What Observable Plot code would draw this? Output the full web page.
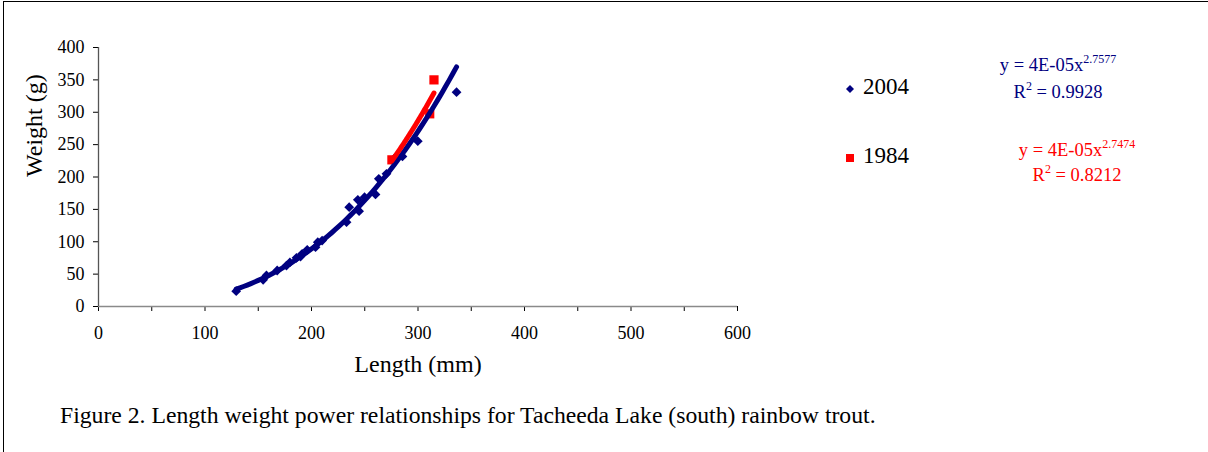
<!DOCTYPE html>
<html><head><meta charset="utf-8">
<script src="https://cdn.jsdelivr.net/npm/d3@7"></script>
<script src="https://cdn.jsdelivr.net/npm/@observablehq/plot@0.6"></script>
<style>
body{margin:0;background:#fff;}
#wrap{position:relative;width:1208px;height:452px;overflow:hidden;font-family:"Liberation Serif","Times New Roman",serif;background:#fff;color:#000;}
.abs{position:absolute;white-space:nowrap;}
#plot{position:absolute;left:0;top:0;}
#plot svg text{font-family:"Liberation Serif","Times New Roman",serif;}
</style></head><body>
<div id="wrap"><div id="plot"></div></div>
<script>
// ---- data ----
const length2004 = [129.3,154.6,157.7,167.8,176.5,179.7,185.9,189.7,191.2,196.0,203.8,205.9,210.0,232.9,235.4,244.7,243.5,249.8,260.1,263.2,270.4,277.3,285.4,299.8,336.2];
const weight2004 = [23.7,41.2,47.9,55.6,63.3,68.0,75.2,77.2,81.4,87.5,91.6,99.3,101.9,130.2,153.4,147.2,164.7,168.8,173.0,197.2,204.9,228.0,231.7,255.3,331.0];
const length1984 = [275.5,311.0,315.0];
const weight1984 = [226.5,297.6,350.0];
const xTicks = [0,100,200,300,400,500,600];
const xMinorTicks = [0,50,100,150,200,250,300,350,400,450,500,550,600];
const yTicks = [0,50,100,150,200,250,300,350,400];
const seriesNames = ["2004","1984"];
const seriesColors = ["#000080","#ff0000"];
const eqCoef = ["4E-05","4E-05"];
const eqExp = ["2.7577","2.7474"];
const eqR2 = ["0.9928","0.8212"];
const xLabel = "Length (mm)";
const yLabel = "Weight (g)";
const caption = "Figure 2. Length weight power relationships for Tacheeda Lake (south) rainbow trout.";

const data2004 = length2004.map((x,i)=>({x, y: weight2004[i]}));
const data1984 = length1984.map((x,i)=>({x, y: weight1984[i]}));

// least-squares power trendline (log-log), as the spreadsheet does
function powerFit(data){
  const lx = data.map(d=>Math.log(d.x)), ly = data.map(d=>Math.log(d.y));
  const mx = d3.mean(lx), my = d3.mean(ly);
  const b = d3.sum(lx,(v,i)=>(v-mx)*(ly[i]-my)) / d3.sum(lx,v=>(v-mx)**2);
  const a = Math.exp(my - b*mx);
  const [x0,x1] = d3.extent(data, d=>d.x);
  const n = 60;
  return d3.range(n+1).map(i=>{const x = x0+(x1-x0)*i/n; return {x, y:a*Math.pow(x,b)};});
}
const fit2004 = powerFit(data2004);
const fit1984 = powerFit(data1984);

const serif = '"Liberation Serif","Times New Roman",serif';
const chart = Plot.plot({
  width: 760, height: 390,
  marginLeft: 98, marginRight: 23, marginTop: 47, marginBottom: 84,
  style: {fontFamily: serif, color: "#000", background: "transparent", overflow: "visible"},
  x: {domain: [0,600]},
  y: {domain: [0,400]},
  marks: [
    Plot.axisY(yTicks, {tickSize: 5, tickPadding: 9, fontSize: 18, fontFamily: serif, label: null, stroke: "#000"}),
    Plot.axisX(xMinorTicks, {tickSize: 5, tickFormat: () => "", label: null, stroke: "#000"}),
    Plot.axisX(xTicks, {tickSize: 0, tickPadding: 20, fontSize: 18, fontFamily: serif, label: null}),
    Plot.ruleY([0], {stroke: "#8a8a8a", strokeWidth: 1.6}),
    Plot.ruleX([0], {stroke: "#555", strokeWidth: 1.3}),
    Plot.dot(data2004, {x: "x", y: "y", symbol: "diamond2", fill: seriesColors[0], r: 4.4}),
    Plot.dot(data1984, {x: "x", y: "y", symbol: "square", fill: seriesColors[1], r: 5.2}),
    Plot.line(fit2004, {x: "x", y: "y", stroke: seriesColors[0], strokeWidth: 5, strokeLinecap: "round"}),
    Plot.line(fit1984, {x: "x", y: "y", stroke: seriesColors[1], strokeWidth: 5, strokeLinecap: "round"}),
    Plot.text([xLabel], {frameAnchor: "bottom", dy: 65, fontSize: 24, fontFamily: serif}),
    Plot.text([yLabel], {frameAnchor: "left", dx: -64, rotate: -90, fontSize: 24, fontFamily: serif})
  ]
});
document.getElementById("plot").appendChild(chart);

const wrap = document.getElementById("wrap");
function addDiv(html, style){
  const d = document.createElement("div");
  d.className = "abs";
  d.setAttribute("style", style);
  d.innerHTML = html;
  wrap.appendChild(d);
  return d;
}
// frame lines
addDiv("", "left:3px;top:1px;width:1205px;height:1px;background:#000;");
addDiv("", "left:3px;top:1px;width:1px;height:451px;background:#000;");

// legend
const legendY = [87,156];
seriesNames.forEach((name,i)=>{
  const cy = legendY[i];
  const sym = i===0
    ? `<svg width="12" height="12"><path d="M6,2L10,6L6,10L2,6Z" fill="${seriesColors[0]}"/></svg>`
    : `<svg width="12" height="12"><rect x="2" y="2" width="8" height="8" fill="${seriesColors[1]}"/></svg>`;
  addDiv(sym, `left:844px;top:${cy-6}px;width:12px;height:12px;`);
  addDiv(name, `left:863px;top:${cy-12}px;font-size:23px;line-height:24px;`);
});

// trendline equations
const eqCenterX = [1058,1077];
const eqY1 = [65,150];
const eqY2 = [92,175];
seriesNames.forEach((name,i)=>{
  const c = seriesColors[i];
  addDiv(`y = ${eqCoef[i]}x<span style="font-size:12px;vertical-align:8px;line-height:0">${eqExp[i]}</span>`,
    `left:${eqCenterX[i]-150}px;width:300px;text-align:center;top:${eqY1[i]-10}px;font-size:18.5px;line-height:20px;color:${c};`);
  addDiv(`R<span style="font-size:12px;vertical-align:8px;line-height:0">2</span> = ${eqR2[i]}`,
    `left:${eqCenterX[i]-150}px;width:300px;text-align:center;top:${eqY2[i]-10}px;font-size:18.5px;line-height:20px;color:${c};`);
});

// caption
addDiv(caption, "left:60px;top:403px;font-size:23.7px;line-height:24px;");
</script>
</body></html>
